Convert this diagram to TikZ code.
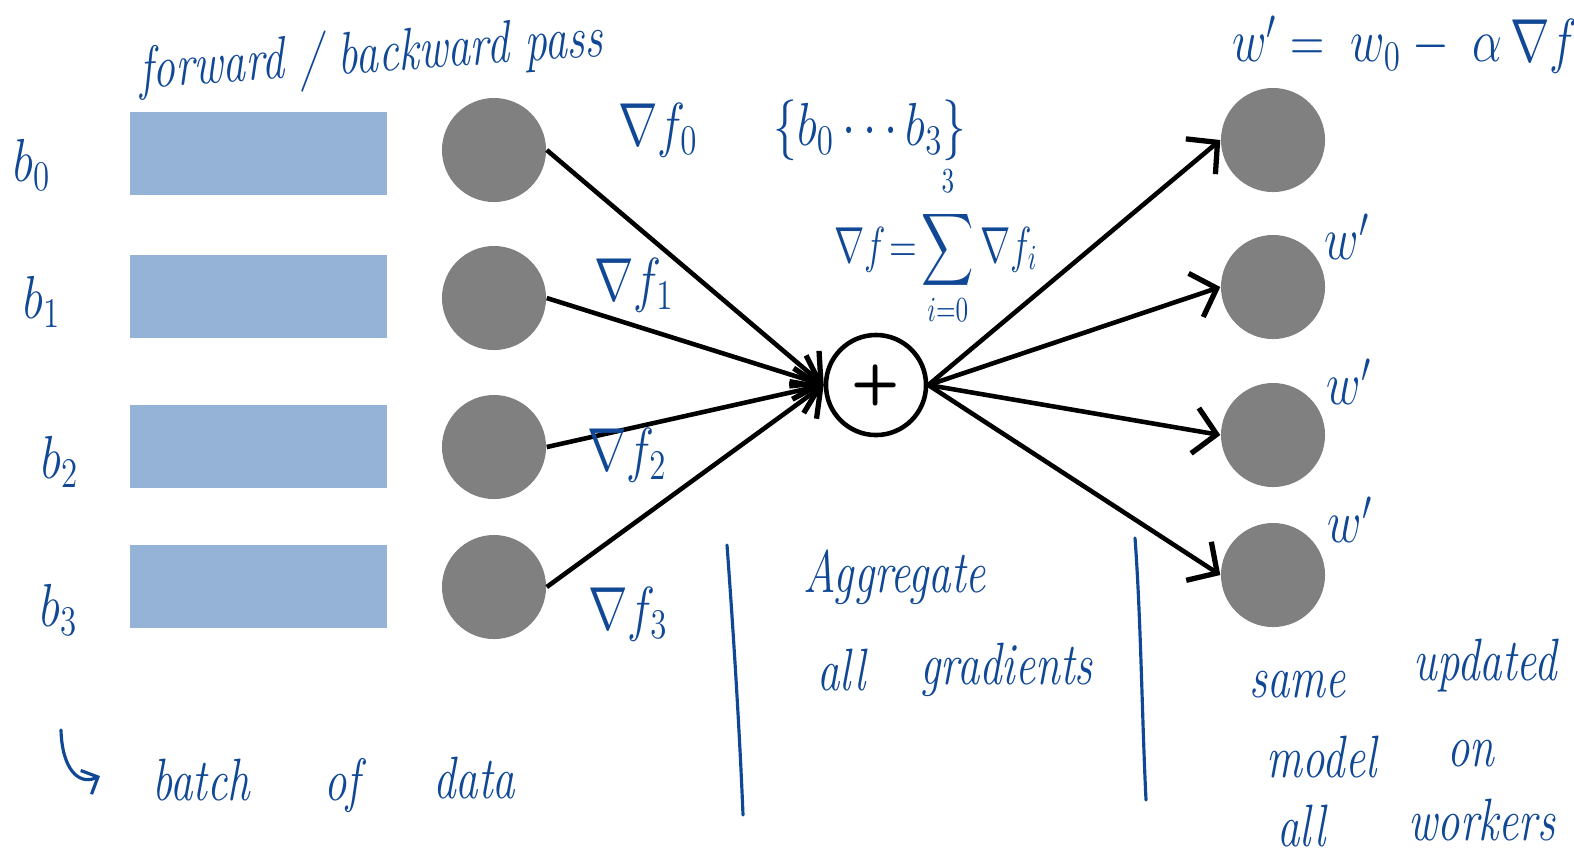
\documentclass[tikz,border=0pt]{standalone}
\usepackage{exscale}
\usetikzlibrary{arrows.meta}

\definecolor{ink}{RGB}{16,72,150}
\definecolor{batchblue}{RGB}{149,179,215}
\definecolor{nodegray}{RGB}{128,128,128}

\tikzset{
  batch/.style={fill=batchblue, minimum width=2.57cm, minimum height=0.83cm, inner sep=0pt},
  worker/.style={circle, fill=nodegray, minimum size=1.04cm, inner sep=0pt},
  adder/.style={circle, draw=black, line width=1.3pt, fill=white, minimum size=1.0cm, inner sep=0pt},
  grad/.style={line width=1.3pt, line join=round, -{Straight Barb[length=2.2mm,width=4.6mm,line width=1.5pt]}},
  hand/.style={text=ink, font=\itshape\fontsize{17}{20}\selectfont, xscale=0.75, inner sep=0pt, anchor=base west},
  maths/.style={text=ink, font=\fontsize{18}{22}\selectfont, xscale=0.78, inner sep=0pt},
  pen/.style={draw=ink, line width=0.9pt, line cap=round},
}

\begin{document}
\begin{tikzpicture}[x=0.01cm, y=-0.01cm]
\useasboundingbox (0,0) rectangle (1574,853);

% data batches and the workers
\foreach \i/\y in {0/153.5,1/296.5,2/446.5,3/586.5}{
\node[batch] (b\i) at (258.5,\y) {};}
\foreach \i/\y in {0/150,1/298,2/447,3/587}{
\node[worker] (w\i) at (494,\y) {};}
\foreach \i/\y in {0/140,1/287,2/435,3/575}{
\node[worker] (r\i) at (1273,\y) {};}

\node[adder, font=\sffamily\bfseries\fontsize{16}{16}\selectfont] (sum) at (876,385) {+};

\foreach \i in {0,...,3}{
\draw[grad] (w\i.east) -- (sum.west);
\draw[grad] (sum.east) -- (r\i.west);}

% labels
\foreach \i/\x/\y in {0/32/165,1/42/302,2/60/462,3/59/610}{
\node[maths] (lb\i) at (\x,\y) {$b_{\i}$};}
\foreach \i/\x/\y in {0/658/130,1/634/285,2/627/455,3/628/614}{
\node[maths] (lg\i) at (\x,\y) {$\nabla f_{\i}$};}
\foreach \i/\x/\y in {1/1347/237,2/1349/382,3/1350/520}{
\node[maths] (lw\i) at (\x,\y) {$w'$};}

\node[maths] (set) at (870,130) {$\{b_0\cdots b_3\}$};
\node[maths, font=\fontsize{14}{17}\selectfont, xscale=0.92] (total) at (936,246)
  {$\displaystyle \nabla f \!=\! \sum_{i=0}^{\rule[-3pt]{0pt}{3pt}3} \nabla f_i$};
\node[maths] (update) at (1405,45) {$w' = \; w_0 - \;\alpha\,\nabla f$};

\node[hand, anchor=base, rotate=3] (pass) at (372,72) {forward / backward pass};

\foreach \w/\x/\y [count=\k] in {batch/152/800, of/324/800, data/433/798,
  Aggregate/803/592, all/817/690, gradients/920/684,
  same/1249/697, updated/1413/680, model/1266/777, on/1447/766,
  all/1277/846, workers/1408/840}{
\node[hand] (note\k) at (\x,\y) {\w};}

% hook and dividers
\draw[pen, -{Straight Barb[length=1.3mm,width=2.6mm]}] (61,730) .. controls (62,768) and (78,786) .. (100,776);
\draw[pen] (727,545) .. controls (734,640) and (740,740) .. (743,815);
\draw[pen] (1135,538) .. controls (1141,620) and (1142,720) .. (1146,800);
\end{tikzpicture}
\end{document}
